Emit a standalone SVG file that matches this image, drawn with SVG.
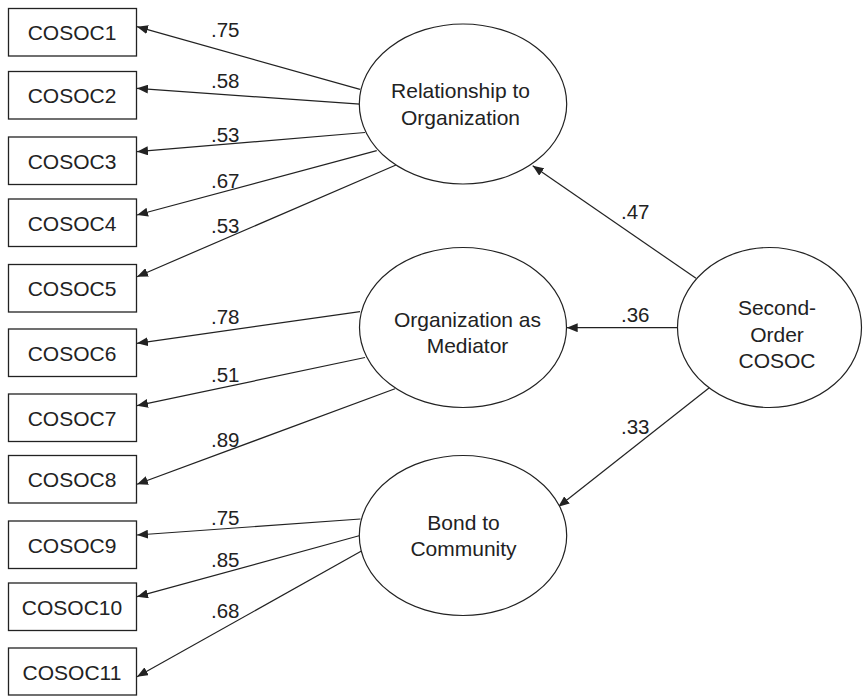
<svg xmlns="http://www.w3.org/2000/svg" width="865" height="696" viewBox="0 0 865 696">
<defs>
<style>
.box{fill:#fff;stroke:#222;stroke-width:1.3}
.ell{fill:#fff;stroke:#222;stroke-width:1.2}
.t{font-family:"Liberation Sans",Arial,sans-serif;font-size:21px;fill:#222;text-anchor:middle}
.c{font-family:"Liberation Sans",Arial,sans-serif;font-size:20.5px;fill:#222}
.ln{stroke:#222;stroke-width:1.2;fill:none;marker-end:url(#ah)}
</style>
<marker id="ah" markerUnits="userSpaceOnUse" markerWidth="12" markerHeight="9" refX="11" refY="4.5" orient="auto">
<path d="M0,0 L11,4.5 L0,9 z" fill="#222"/>
</marker>
</defs>
<rect width="865" height="696" fill="#fff"/>
<g id="connectors">
<line class="ln" x1="360" y1="89.3" x2="137" y2="26.7"/>
<line class="ln" x1="360" y1="104.2" x2="137" y2="88.3"/>
<line class="ln" x1="365" y1="132.5" x2="137" y2="151.7"/>
<line class="ln" x1="376.7" y1="150.7" x2="137" y2="215"/>
<line class="ln" x1="396" y1="165" x2="137" y2="276.7"/>
<line class="ln" x1="360" y1="311.7" x2="137" y2="343.3"/>
<line class="ln" x1="365" y1="357.5" x2="137" y2="405.7"/>
<line class="ln" x1="395" y1="388.8" x2="137" y2="484.3"/>
<line class="ln" x1="360.5" y1="519" x2="137" y2="535"/>
<line class="ln" x1="360" y1="535.5" x2="137" y2="596.7"/>
<line class="ln" x1="361" y1="551.3" x2="137" y2="676.7"/>
<line class="ln" x1="696" y1="278.3" x2="532.7" y2="165.7"/>
<line class="ln" x1="677.3" y1="327.7" x2="566.7" y2="327.7"/>
<line class="ln" x1="709.3" y1="387.7" x2="558.3" y2="506.7"/>
</g>
<g id="coefficients">
<text class="c" x="211" y="37">.75</text>
<text class="c" x="211" y="88.3">.58</text>
<text class="c" x="211" y="141.7">.53</text>
<text class="c" x="211" y="188.3">.67</text>
<text class="c" x="211" y="232.7">.53</text>
<text class="c" x="211" y="324">.78</text>
<text class="c" x="211" y="381.7">.51</text>
<text class="c" x="211" y="446.7">.89</text>
<text class="c" x="211" y="525">.75</text>
<text class="c" x="211" y="566.7">.85</text>
<text class="c" x="211" y="618.3">.68</text>
<text class="c" x="621" y="219">.47</text>
<text class="c" x="621" y="321.7">.36</text>
<text class="c" x="621" y="434">.33</text>
</g>
<g id="COSOC1"><rect class="box" x="8.5" y="8.5" width="128" height="47.5"/><text class="t" x="72" y="40">COSOC1</text></g>
<g id="COSOC2"><rect class="box" x="8.5" y="71.5" width="128" height="47.5"/><text class="t" x="72" y="103">COSOC2</text></g>
<g id="COSOC3"><rect class="box" x="8.5" y="137" width="128" height="47.5"/><text class="t" x="72" y="168.5">COSOC3</text></g>
<g id="COSOC4"><rect class="box" x="8.5" y="199" width="128" height="47.5"/><text class="t" x="72" y="230.5">COSOC4</text></g>
<g id="COSOC5"><rect class="box" x="8.5" y="264.5" width="128" height="47.5"/><text class="t" x="72" y="296">COSOC5</text></g>
<g id="COSOC6"><rect class="box" x="8.5" y="329" width="128" height="47.5"/><text class="t" x="72" y="360.5">COSOC6</text></g>
<g id="COSOC7"><rect class="box" x="8.5" y="394" width="128" height="47.5"/><text class="t" x="72" y="425.5">COSOC7</text></g>
<g id="COSOC8"><rect class="box" x="8.5" y="455.5" width="128" height="47.5"/><text class="t" x="72" y="487">COSOC8</text></g>
<g id="COSOC9"><rect class="box" x="8.5" y="521" width="128" height="47.5"/><text class="t" x="72" y="552.5">COSOC9</text></g>
<g id="COSOC10"><rect class="box" x="8.5" y="583" width="128" height="47.5"/><text class="t" x="72" y="614.5">COSOC10</text></g>
<g id="COSOC11"><rect class="box" x="8.5" y="648" width="128" height="47"/><text class="t" x="72" y="679.5">COSOC11</text></g>
<g id="relationship"><ellipse class="ell" cx="463" cy="104" rx="103.7" ry="80"/><text class="t" x="460.5" y="98.3">Relationship to</text><text class="t" x="460.5" y="125">Organization</text></g>
<g id="mediator"><ellipse class="ell" cx="463" cy="327.5" rx="103.5" ry="80"/><text class="t" x="467.5" y="326.7">Organization as</text><text class="t" x="467.5" y="353.3">Mediator</text></g>
<g id="bond"><ellipse class="ell" cx="463" cy="535.5" rx="103.7" ry="80"/><text class="t" x="463.5" y="530">Bond to</text><text class="t" x="463.5" y="555.7">Community</text></g>
<g id="second-order"><ellipse class="ell" cx="769.5" cy="327.5" rx="92" ry="80"/><text class="t" x="777" y="315">Second-</text><text class="t" x="777" y="342.3">Order</text><text class="t" x="777" y="367.7">COSOC</text></g>
</svg>
